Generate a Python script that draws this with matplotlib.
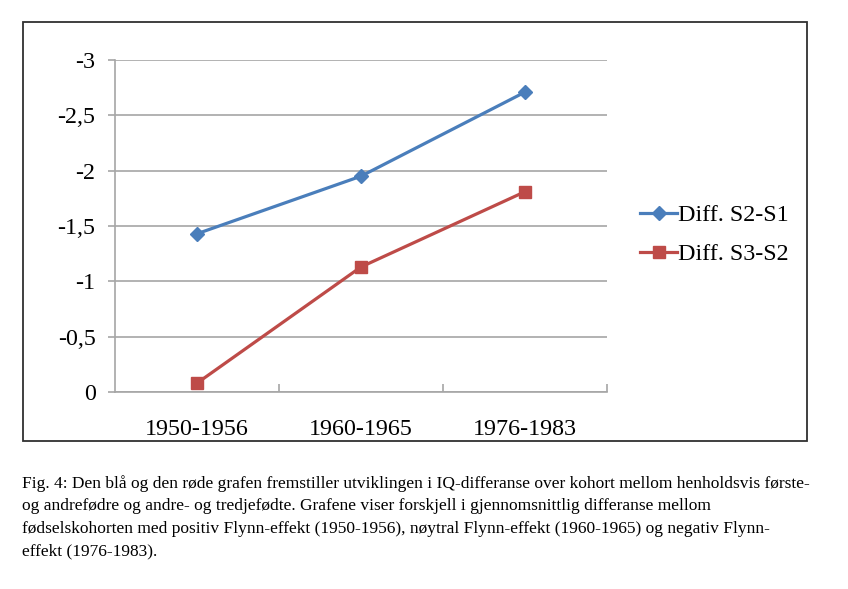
import numpy as np
import matplotlib.pyplot as plt
from matplotlib.patches import Rectangle

plt.rcParams['font.family'] = ['Liberation Serif', 'DejaVu Serif']

cohorts = ['1950-1956', '1960-1965', '1976-1983']
diff_s2_s1 = [-1.43, -1.95, -2.71]
diff_s3_s2 = [-0.08, -1.13, -1.81]
yticks = [0, -0.5, -1, -1.5, -2, -2.5, -3]
ytick_labels = ['0', '-0,5', '-1', '-1,5', '-2', '-2,5', '-3']
caption = ('Fig. 4: Den blå og den røde grafen fremstiller utviklingen i IQ-differanse over kohort mellom henholdsvis første-\n'
           'og andrefødre og andre- og tredjefødte. Grafene viser forskjell i gjennomsnittlig differanse mellom\n'
           'fødselskohorten med positiv Flynn-effekt (1950-1956), nøytral Flynn-effekt (1960-1965) og negativ Flynn-\n'
           'effekt (1976-1983).')

blue = '#4a7ebb'
red = '#be4b48'
grid = '#a6a6a6'

fig = plt.figure(figsize=(8.48, 5.89), dpi=100)
# outer chart frame
fig.patches.append(Rectangle((23/848, 1-441/589), 784/848, 419/589,
                             transform=fig.transFigure, fill=False,
                             edgecolor='#303030', lw=1.3))

ax = fig.add_axes([115/848, 1-392/589, 492/848, 332/589])
x = np.arange(len(cohorts))
ax.plot(x, diff_s2_s1, color=blue, lw=2.3, marker='D', ms=7.5, label='Diff. S2-S1')
ax.plot(x, diff_s3_s2, color=red, lw=2.3, marker='s', ms=8.5, label='Diff. S3-S2')

ax.set_xlim(-0.5, 2.5)
ax.set_ylim(0, -3)
ax.set_yticks(yticks)
ax.set_yticklabels(ytick_labels)
ax.set_xticks(x)
ax.set_xticklabels(cohorts)
ax.set_xticks([0.5, 1.5, 2.5], minor=True)
ax.tick_params(axis='x', which='major', length=0, pad=19.5, labelsize=17.3)
ax.tick_params(axis='x', which='minor', length=6, direction='in', color=grid, width=1.2)
ax.tick_params(axis='y', length=5, color=grid, width=1.2, pad=9, labelsize=17.3)
ax.yaxis.grid(True, color=grid, lw=1.2)
ax.set_axisbelow(True)
for s in ['top', 'right']:
    ax.spines[s].set_visible(False)
for s in ['left', 'bottom']:
    ax.spines[s].set_color(grid)
    ax.spines[s].set_linewidth(1.2)

fig.legend(loc='center left', bbox_to_anchor=(640/848, 1-235/589), frameon=False,
           fontsize=17.3, borderpad=0, borderaxespad=0, handlelength=1.55,
           handletextpad=0.05, labelspacing=0.72)

fig.text(22/848, 1-475/589, caption, fontsize=12.5, va='top', ha='left',
         linespacing=1.53)

fig.savefig('out.png', dpi=100)
